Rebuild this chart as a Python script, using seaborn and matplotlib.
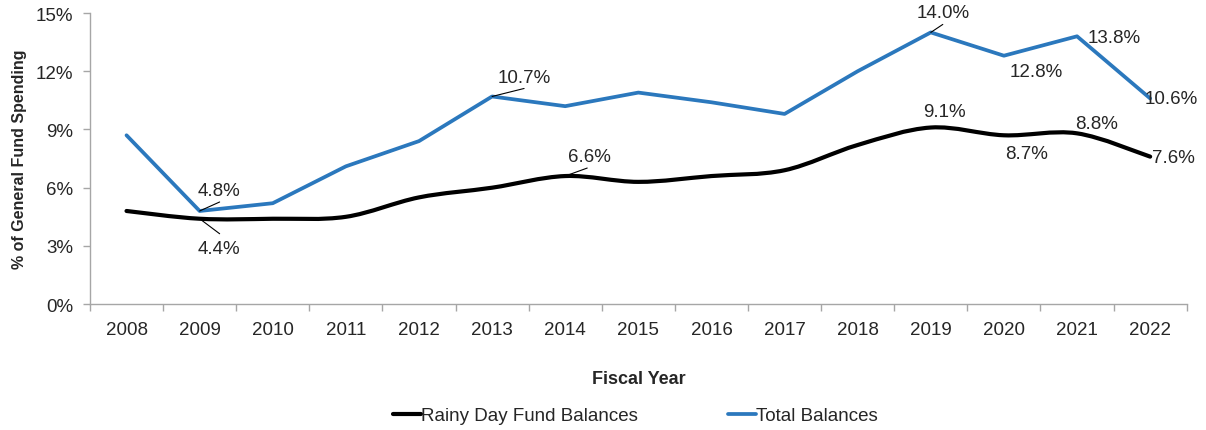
import numpy as np
import seaborn as sns
import matplotlib
matplotlib.use("Agg")
import matplotlib.pyplot as plt
from matplotlib.path import Path
from matplotlib.patches import PathPatch
from matplotlib.lines import Line2D

# data
years = [2008, 2009, 2010, 2011, 2012, 2013, 2014, 2015,
         2016, 2017, 2018, 2019, 2020, 2021, 2022]
rainy_day = [4.8, 4.4, 4.4, 4.5, 5.5, 6.0, 6.6, 6.3,
             6.6, 6.9, 8.2, 9.1, 8.7, 8.8, 7.6]
total_bal = [8.7, 4.8, 5.2, 7.1, 8.4, 10.7, 10.2, 10.9,
             10.4, 9.8, 12.0, 14.0, 12.8, 13.8, 10.6]
y_ticks = [0, 3, 6, 9, 12, 15]

sns.set_theme(style="white")
plt.rcParams["font.family"] = ["Liberation Sans", "DejaVu Sans"]

BLUE = "#2b78bd"
TXT = "#262626"
GREY = "#a6a6a6"
FS = 13.5
LW_BLUE = 2.7
LW_BLACK = 3.0

fig = plt.figure(figsize=(12.06, 4.31), dpi=100)
ax = fig.add_axes([0.0746, 0.292, 0.9094, 0.6755])

pos = np.arange(len(years))

# total balances: straight segments
sns.lineplot(x=pos, y=total_bal, ax=ax, color=BLUE, linewidth=LW_BLUE)

# rainy day fund: smoothed line (Excel-style bezier)
pts = np.column_stack([pos, rainy_day]).astype(float)
ext = np.vstack([pts[0], pts, pts[-1]])
verts = [tuple(pts[0])]
codes = [Path.MOVETO]
for i in range(len(pts) - 1):
    p0, p1, p2, p3 = ext[i], ext[i + 1], ext[i + 2], ext[i + 3]
    c1 = p1 + (p2 - p0) / 6.0
    c2 = p2 - (p3 - p1) / 6.0
    verts += [tuple(c1), tuple(c2), tuple(p2)]
    codes += [Path.CURVE4] * 3
ax.add_patch(PathPatch(Path(verts, codes), facecolor="none",
                       edgecolor="black", linewidth=LW_BLACK,
                       capstyle="round"))

ax.set_xlim(-0.5, len(years) - 0.5)
ax.set_ylim(0, 15)
ax.set_yticks(y_ticks)
ax.set_yticklabels([f"{v}%" for v in y_ticks])
ax.set_xticks(np.arange(-0.5, len(years), 1.0))
ax.set_xticklabels([])
ax.set_xticks(pos, minor=True)
ax.set_xticklabels([str(y) for y in years], minor=True)
ax.tick_params(axis="x", which="major", length=5, width=1, color=GREY,
               direction="out", bottom=True)
ax.tick_params(axis="x", which="minor", length=0, pad=12,
               labelsize=FS, labelcolor=TXT)
ax.tick_params(axis="y", length=5, width=1, color=GREY, direction="out",
               left=True, labelsize=FS, labelcolor=TXT, pad=7)

for s in ["top", "right"]:
    ax.spines[s].set_visible(False)
for s in ["left", "bottom"]:
    ax.spines[s].set_color(GREY)
    ax.spines[s].set_linewidth(1)

ax.set_ylabel("% of General Fund Spending", fontsize=11.5, fontweight="bold",
              color=TXT, labelpad=6)
ax.set_xlabel("Fiscal Year", fontsize=13, fontweight="bold", color=TXT,
              labelpad=23)


def label(idx, series, dx, dy, ha="center", line=None):
    val = series[idx]
    ax.annotate(f"{val:.1f}%", xy=(idx, val), xytext=(dx, dy),
                textcoords="offset pixels", ha=ha, va="center",
                fontsize=FS, color=TXT)
    if line is not None:
        ax.annotate("", xy=(idx, val), xytext=line,
                    textcoords="offset pixels",
                    arrowprops=dict(arrowstyle="-", color="black", lw=0.8,
                                    shrinkA=0, shrinkB=0))


label(1, total_bal, 19, 20, line=(20, 9))
label(1, rainy_day, 19, -30, line=(20, -15))
label(5, total_bal, 32, 19, line=(32, 8))
label(6, rainy_day, 24, 20, line=(22, 8))
label(11, total_bal, 12, 20, line=(12, 8))
label(12, total_bal, 32, -16)
label(13, total_bal, 37, -1)
label(14, total_bal, -6, 0, ha="left")
label(11, rainy_day, 14, 16)
label(12, rainy_day, 23, -18)
label(13, rainy_day, 20, 10)
label(14, rainy_day, 2, -1, ha="left")

handles = [Line2D([0], [0], color="black", lw=LW_BLACK),
           Line2D([0], [0], color=BLUE, lw=LW_BLUE)]
leg = fig.legend(handles, ["Rainy Day Fund Balances", "Total Balances"],
                 loc="center", bbox_to_anchor=(0.527, 0.033), ncol=2,
                 frameon=False, fontsize=FS, handlelength=1.5,
                 handletextpad=0.0, columnspacing=4.8)
for t in leg.get_texts():
    t.set_color(TXT)

fig.savefig("out.png", dpi=100)
